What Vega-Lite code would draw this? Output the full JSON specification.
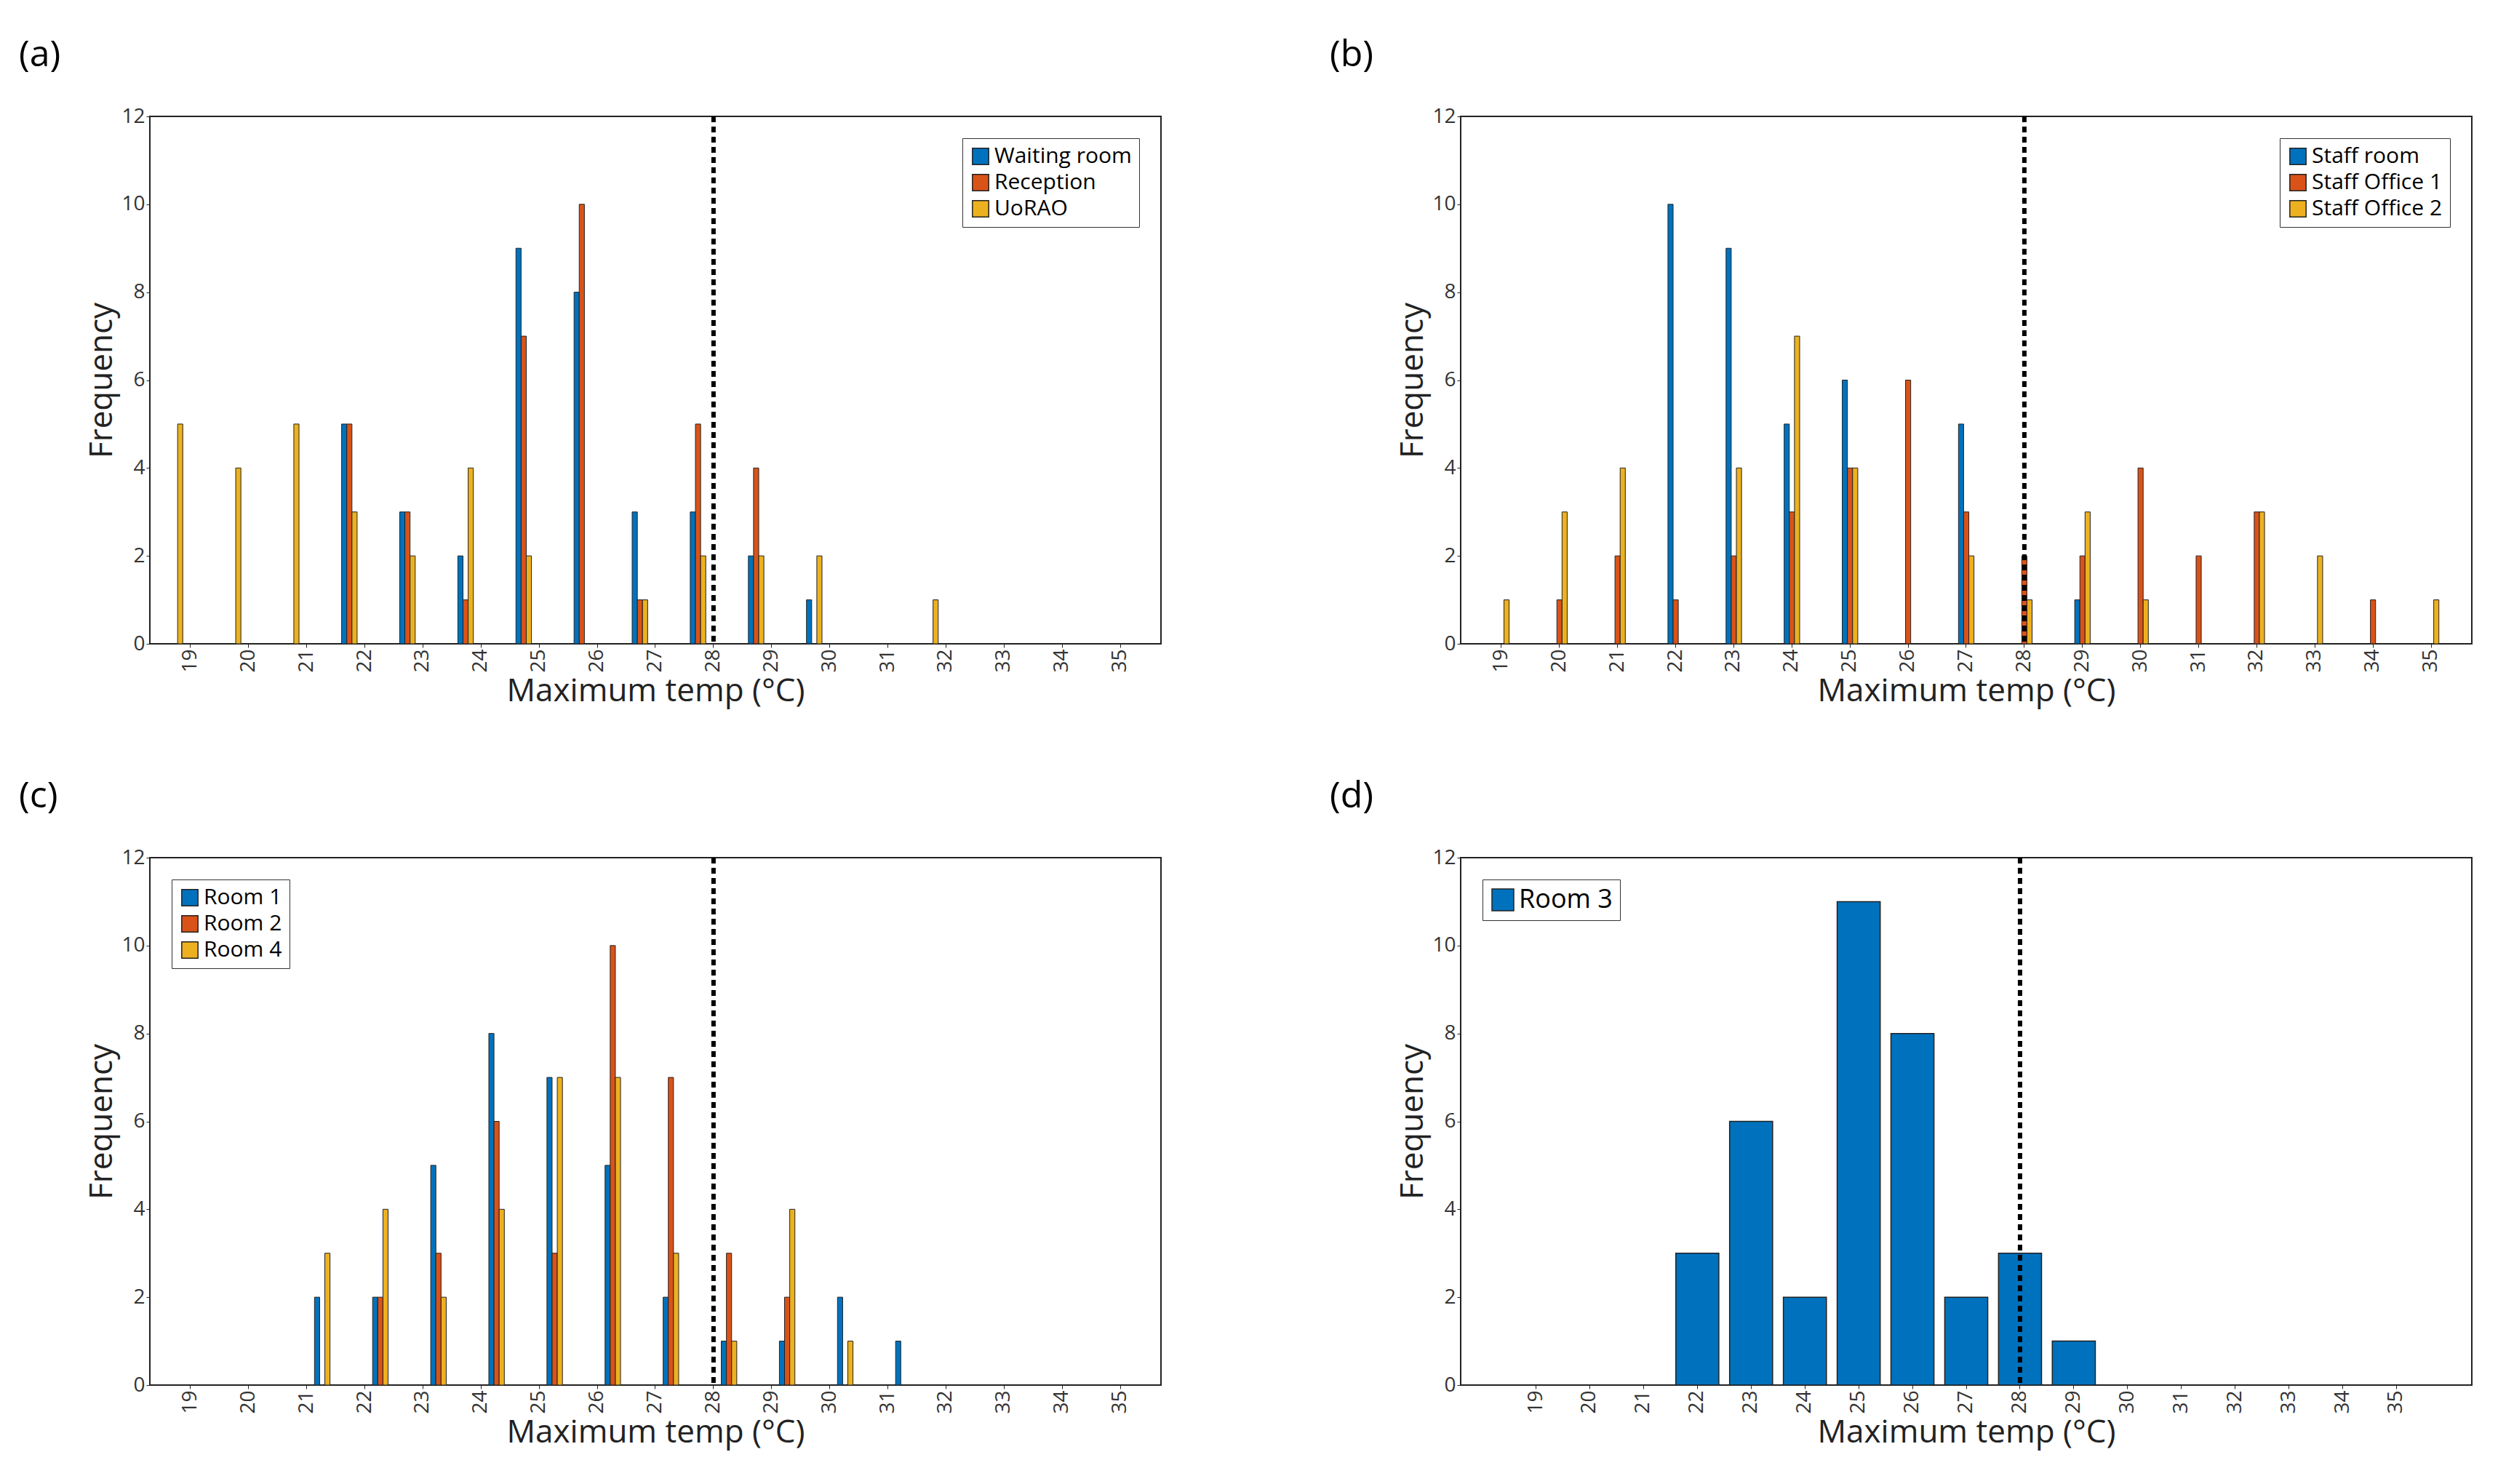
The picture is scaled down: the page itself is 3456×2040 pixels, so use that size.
{
  "$schema": "https://vega.github.io/schema/vega-lite/v6.json",
  "background": "white",
  "padding": {"left": 25, "top": 50, "right": 5, "bottom": 5},
  "datasets": {
    "bars": [
      {"panel": "a", "temp": 19, "series": "UoRAO", "freq": 5},
      {"panel": "a", "temp": 20, "series": "UoRAO", "freq": 4},
      {"panel": "a", "temp": 21, "series": "UoRAO", "freq": 5},
      {"panel": "a", "temp": 22, "series": "Waiting room", "freq": 5},
      {"panel": "a", "temp": 22, "series": "Reception", "freq": 5},
      {"panel": "a", "temp": 22, "series": "UoRAO", "freq": 3},
      {"panel": "a", "temp": 23, "series": "Waiting room", "freq": 3},
      {"panel": "a", "temp": 23, "series": "Reception", "freq": 3},
      {"panel": "a", "temp": 23, "series": "UoRAO", "freq": 2},
      {"panel": "a", "temp": 24, "series": "Waiting room", "freq": 2},
      {"panel": "a", "temp": 24, "series": "Reception", "freq": 1},
      {"panel": "a", "temp": 24, "series": "UoRAO", "freq": 4},
      {"panel": "a", "temp": 25, "series": "Waiting room", "freq": 9},
      {"panel": "a", "temp": 25, "series": "Reception", "freq": 7},
      {"panel": "a", "temp": 25, "series": "UoRAO", "freq": 2},
      {"panel": "a", "temp": 26, "series": "Waiting room", "freq": 8},
      {"panel": "a", "temp": 26, "series": "Reception", "freq": 10},
      {"panel": "a", "temp": 27, "series": "Waiting room", "freq": 3},
      {"panel": "a", "temp": 27, "series": "Reception", "freq": 1},
      {"panel": "a", "temp": 27, "series": "UoRAO", "freq": 1},
      {"panel": "a", "temp": 28, "series": "Waiting room", "freq": 3},
      {"panel": "a", "temp": 28, "series": "Reception", "freq": 5},
      {"panel": "a", "temp": 28, "series": "UoRAO", "freq": 2},
      {"panel": "a", "temp": 29, "series": "Waiting room", "freq": 2},
      {"panel": "a", "temp": 29, "series": "Reception", "freq": 4},
      {"panel": "a", "temp": 29, "series": "UoRAO", "freq": 2},
      {"panel": "a", "temp": 30, "series": "Waiting room", "freq": 1},
      {"panel": "a", "temp": 30, "series": "UoRAO", "freq": 2},
      {"panel": "a", "temp": 32, "series": "UoRAO", "freq": 1},

      {"panel": "b", "temp": 19, "series": "Staff Office 2", "freq": 1},
      {"panel": "b", "temp": 20, "series": "Staff Office 1", "freq": 1},
      {"panel": "b", "temp": 20, "series": "Staff Office 2", "freq": 3},
      {"panel": "b", "temp": 21, "series": "Staff Office 1", "freq": 2},
      {"panel": "b", "temp": 21, "series": "Staff Office 2", "freq": 4},
      {"panel": "b", "temp": 22, "series": "Staff room", "freq": 10},
      {"panel": "b", "temp": 22, "series": "Staff Office 1", "freq": 1},
      {"panel": "b", "temp": 23, "series": "Staff room", "freq": 9},
      {"panel": "b", "temp": 23, "series": "Staff Office 1", "freq": 2},
      {"panel": "b", "temp": 23, "series": "Staff Office 2", "freq": 4},
      {"panel": "b", "temp": 24, "series": "Staff room", "freq": 5},
      {"panel": "b", "temp": 24, "series": "Staff Office 1", "freq": 3},
      {"panel": "b", "temp": 24, "series": "Staff Office 2", "freq": 7},
      {"panel": "b", "temp": 25, "series": "Staff room", "freq": 6},
      {"panel": "b", "temp": 25, "series": "Staff Office 1", "freq": 4},
      {"panel": "b", "temp": 25, "series": "Staff Office 2", "freq": 4},
      {"panel": "b", "temp": 26, "series": "Staff Office 1", "freq": 6},
      {"panel": "b", "temp": 27, "series": "Staff room", "freq": 5},
      {"panel": "b", "temp": 27, "series": "Staff Office 1", "freq": 3},
      {"panel": "b", "temp": 27, "series": "Staff Office 2", "freq": 2},
      {"panel": "b", "temp": 28, "series": "Staff Office 1", "freq": 2},
      {"panel": "b", "temp": 28, "series": "Staff Office 2", "freq": 1},
      {"panel": "b", "temp": 29, "series": "Staff room", "freq": 1},
      {"panel": "b", "temp": 29, "series": "Staff Office 1", "freq": 2},
      {"panel": "b", "temp": 29, "series": "Staff Office 2", "freq": 3},
      {"panel": "b", "temp": 30, "series": "Staff Office 1", "freq": 4},
      {"panel": "b", "temp": 30, "series": "Staff Office 2", "freq": 1},
      {"panel": "b", "temp": 31, "series": "Staff Office 1", "freq": 2},
      {"panel": "b", "temp": 32, "series": "Staff Office 1", "freq": 3},
      {"panel": "b", "temp": 32, "series": "Staff Office 2", "freq": 3},
      {"panel": "b", "temp": 33, "series": "Staff Office 2", "freq": 2},
      {"panel": "b", "temp": 34, "series": "Staff Office 1", "freq": 1},
      {"panel": "b", "temp": 35, "series": "Staff Office 2", "freq": 1},

      {"panel": "c", "temp": 21, "series": "Room 1", "freq": 2},
      {"panel": "c", "temp": 21, "series": "Room 4", "freq": 3},
      {"panel": "c", "temp": 22, "series": "Room 1", "freq": 2},
      {"panel": "c", "temp": 22, "series": "Room 2", "freq": 2},
      {"panel": "c", "temp": 22, "series": "Room 4", "freq": 4},
      {"panel": "c", "temp": 23, "series": "Room 1", "freq": 5},
      {"panel": "c", "temp": 23, "series": "Room 2", "freq": 3},
      {"panel": "c", "temp": 23, "series": "Room 4", "freq": 2},
      {"panel": "c", "temp": 24, "series": "Room 1", "freq": 8},
      {"panel": "c", "temp": 24, "series": "Room 2", "freq": 6},
      {"panel": "c", "temp": 24, "series": "Room 4", "freq": 4},
      {"panel": "c", "temp": 25, "series": "Room 1", "freq": 7},
      {"panel": "c", "temp": 25, "series": "Room 2", "freq": 3},
      {"panel": "c", "temp": 25, "series": "Room 4", "freq": 7},
      {"panel": "c", "temp": 26, "series": "Room 1", "freq": 5},
      {"panel": "c", "temp": 26, "series": "Room 2", "freq": 10},
      {"panel": "c", "temp": 26, "series": "Room 4", "freq": 7},
      {"panel": "c", "temp": 27, "series": "Room 1", "freq": 2},
      {"panel": "c", "temp": 27, "series": "Room 2", "freq": 7},
      {"panel": "c", "temp": 27, "series": "Room 4", "freq": 3},
      {"panel": "c", "temp": 28, "series": "Room 1", "freq": 1},
      {"panel": "c", "temp": 28, "series": "Room 2", "freq": 3},
      {"panel": "c", "temp": 28, "series": "Room 4", "freq": 1},
      {"panel": "c", "temp": 29, "series": "Room 1", "freq": 1},
      {"panel": "c", "temp": 29, "series": "Room 2", "freq": 2},
      {"panel": "c", "temp": 29, "series": "Room 4", "freq": 4},
      {"panel": "c", "temp": 30, "series": "Room 1", "freq": 2},
      {"panel": "c", "temp": 30, "series": "Room 4", "freq": 1},
      {"panel": "c", "temp": 31, "series": "Room 1", "freq": 1},

      {"panel": "d", "temp": 22, "series": "Room 3", "freq": 3},
      {"panel": "d", "temp": 23, "series": "Room 3", "freq": 6},
      {"panel": "d", "temp": 24, "series": "Room 3", "freq": 2},
      {"panel": "d", "temp": 25, "series": "Room 3", "freq": 11},
      {"panel": "d", "temp": 26, "series": "Room 3", "freq": 8},
      {"panel": "d", "temp": 27, "series": "Room 3", "freq": 2},
      {"panel": "d", "temp": 28, "series": "Room 3", "freq": 3},
      {"panel": "d", "temp": 29, "series": "Room 3", "freq": 1}
    ],
    "limit": [{"t": 28}]
  },
  "config": {
    "font": "Open Sans",
    "view": {"stroke": "#222", "strokeWidth": 2},
    "axis": {"labelFont": "Open Sans", "titleFont": "Open Sans", "labelFontSize": 28, "titleFontSize": 44, "titleFontWeight": "normal", "labelColor": "#333", "titleColor": "#222", "domainColor": "#222", "tickColor": "#222", "grid": false},
    "legend": {"labelFont": "Open Sans", "labelFontSize": 30, "labelLimit": 0, "strokeColor": "#333", "fillColor": "white", "padding": 10, "symbolType": "square", "symbolSize": 500, "symbolStrokeColor": "#222", "symbolStrokeWidth": 1.5, "rowPadding": 6},
    "title": {"font": "Open Sans", "fontSize": 50, "fontWeight": "normal", "anchor": "start", "frame": "group", "dx": -180, "offset": 45}
  },
  "vconcat": [
    {
      "hconcat": [
        {
          "title": "(a)", "width": 1390, "height": 725,
          "layer": [
            {
              "data": {"name": "bars"}, "transform": [{"filter": "datum.panel === 'a'"}],
              "mark": {"type": "bar", "stroke": "#222", "strokeWidth": 1},
              "encoding": {
                "x": {"field": "temp", "type": "ordinal", "scale": {"domain": [19,20,21,22,23,24,25,26,27,28,29,30,31,32,33,34,35], "paddingInner": 0.2, "paddingOuter": 0.3}, "title": "Maximum temp (°C)", "axis": {"labelAngle": -90}},
                "xOffset": {"field": "series", "scale": {"domain": ["Waiting room", "Reception", "UoRAO"], "paddingInner": 0, "paddingOuter": 0}},
                "y": {"field": "freq", "type": "quantitative", "scale": {"domain": [0, 12]}, "axis": {"values": [0,2,4,6,8,10,12]}, "title": "Frequency"},
                "color": {"field": "series", "scale": {"domain": ["Waiting room", "Reception", "UoRAO"], "range": ["#0072BD", "#D95319", "#EDB120"]}, "title": null, "legend": {"orient": "top-right", "offset": 30}}
              }
            },
            {
              "data": {"name": "limit"},
              "mark": {"type": "rule", "strokeDash": [8, 6], "strokeWidth": 6, "color": "black"},
              "encoding": {"x": {"field": "t", "type": "ordinal"}}
            }
          ]
        },
        {
          "title": "(b)", "width": 1390, "height": 725,
          "layer": [
            {
              "data": {"name": "bars"}, "transform": [{"filter": "datum.panel === 'b'"}],
              "mark": {"type": "bar", "stroke": "#222", "strokeWidth": 1},
              "encoding": {
                "x": {"field": "temp", "type": "ordinal", "scale": {"domain": [19,20,21,22,23,24,25,26,27,28,29,30,31,32,33,34,35], "paddingInner": 0.2, "paddingOuter": 0.3}, "title": "Maximum temp (°C)", "axis": {"labelAngle": -90}},
                "xOffset": {"field": "series", "scale": {"domain": ["Staff room", "Staff Office 1", "Staff Office 2"], "paddingInner": 0, "paddingOuter": 0}},
                "y": {"field": "freq", "type": "quantitative", "scale": {"domain": [0, 12]}, "axis": {"values": [0,2,4,6,8,10,12]}, "title": "Frequency"},
                "color": {"field": "series", "scale": {"domain": ["Staff room", "Staff Office 1", "Staff Office 2"], "range": ["#0072BD", "#D95319", "#EDB120"]}, "title": null, "legend": {"orient": "top-right", "offset": 30}}
              }
            },
            {
              "data": {"name": "limit"},
              "mark": {"type": "rule", "strokeDash": [8, 6], "strokeWidth": 6, "color": "black"},
              "encoding": {"x": {"field": "t", "type": "ordinal"}}
            }
          ]
        }
      ],
      "spacing": 230,
      "resolve": {"scale": {"color": "independent"}}
    },
    {
      "hconcat": [
        {
          "title": "(c)", "width": 1390, "height": 725,
          "layer": [
            {
              "data": {"name": "bars"}, "transform": [{"filter": "datum.panel === 'c'"}],
              "mark": {"type": "bar", "stroke": "#222", "strokeWidth": 1},
              "encoding": {
                "x": {"field": "temp", "type": "ordinal", "scale": {"domain": [19,20,21,22,23,24,25,26,27,28,29,30,31,32,33,34,35], "paddingInner": 0.2, "paddingOuter": 0.3}, "title": "Maximum temp (°C)", "axis": {"labelAngle": -90}},
                "xOffset": {"field": "series", "scale": {"domain": ["Room 1", "Room 2", "Room 4"], "paddingInner": 0, "paddingOuter": 0}},
                "y": {"field": "freq", "type": "quantitative", "scale": {"domain": [0, 12]}, "axis": {"values": [0,2,4,6,8,10,12]}, "title": "Frequency"},
                "color": {"field": "series", "scale": {"domain": ["Room 1", "Room 2", "Room 4"], "range": ["#0072BD", "#D95319", "#EDB120"]}, "title": null, "legend": {"orient": "top-left", "offset": 30}}
              }
            },
            {
              "data": {"name": "limit"},
              "mark": {"type": "rule", "strokeDash": [8, 6], "strokeWidth": 6, "color": "black"},
              "encoding": {"x": {"field": "t", "type": "ordinal"}}
            }
          ]
        },
        {
          "title": "(d)", "width": 1390, "height": 725,
          "layer": [
            {
              "data": {"name": "bars"}, "transform": [{"filter": "datum.panel === 'd'"}],
              "mark": {"type": "bar", "stroke": "#222", "strokeWidth": 1.5},
              "encoding": {
                "x": {"field": "temp", "type": "ordinal", "scale": {"domain": [18,19,20,21,22,23,24,25,26,27,28,29,30,31,32,33,34,35,36], "paddingInner": 0.2, "paddingOuter": 0}, "title": "Maximum temp (°C)", "axis": {"labelAngle": -90, "values": [19,20,21,22,23,24,25,26,27,28,29,30,31,32,33,34,35]}},
                "y": {"field": "freq", "type": "quantitative", "scale": {"domain": [0, 12]}, "axis": {"values": [0,2,4,6,8,10,12]}, "title": "Frequency"},
                "color": {"field": "series", "scale": {"domain": ["Room 3"], "range": ["#0072BD"]}, "title": null, "legend": {"orient": "top-left", "offset": 30, "labelFontSize": 36, "symbolSize": 900}}
              }
            },
            {
              "data": {"name": "limit"},
              "mark": {"type": "rule", "strokeDash": [8, 6], "strokeWidth": 6, "color": "black"},
              "encoding": {"x": {"field": "t", "type": "ordinal"}}
            }
          ]
        }
      ],
      "spacing": 230,
      "resolve": {"scale": {"color": "independent"}}
    }
  ],
  "spacing": 95,
  "resolve": {"scale": {"color": "independent"}}
}
